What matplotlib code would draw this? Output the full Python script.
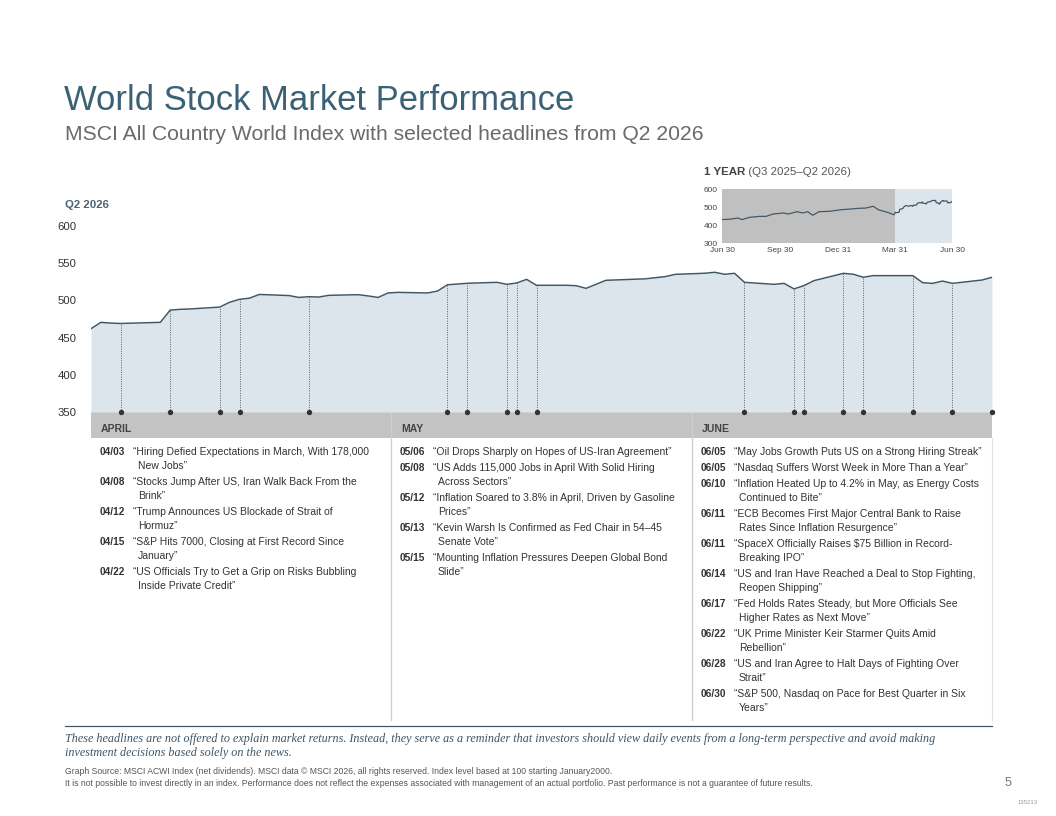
import numpy as np
import pandas as pd
import matplotlib
matplotlib.use("Agg")
import matplotlib.pyplot as plt
import matplotlib.dates as mdates
from matplotlib.patches import Rectangle
from matplotlib.lines import Line2D

plt.rcParams['font.family'] = ['Liberation Sans', 'DejaVu Sans']

# ---- data ----
q2_dates = ['2026-03-31', '2026-04-01', '2026-04-02', '2026-04-03', '2026-04-07', '2026-04-08',
            '2026-04-09', '2026-04-10', '2026-04-13', '2026-04-14', '2026-04-15', '2026-04-16',
            '2026-04-17', '2026-04-20', '2026-04-21', '2026-04-22', '2026-04-23', '2026-04-24',
            '2026-04-27', '2026-04-28', '2026-04-29', '2026-04-30', '2026-05-01', '2026-05-04',
            '2026-05-05', '2026-05-06', '2026-05-07', '2026-05-08', '2026-05-11', '2026-05-12',
            '2026-05-13', '2026-05-14', '2026-05-15', '2026-05-18', '2026-05-19', '2026-05-20',
            '2026-05-21', '2026-05-22', '2026-05-26', '2026-05-27', '2026-05-28', '2026-05-29',
            '2026-06-01', '2026-06-02', '2026-06-03', '2026-06-04', '2026-06-05', '2026-06-08',
            '2026-06-09', '2026-06-10', '2026-06-11', '2026-06-12', '2026-06-15', '2026-06-16',
            '2026-06-17', '2026-06-18', '2026-06-19', '2026-06-22', '2026-06-23', '2026-06-24',
            '2026-06-25', '2026-06-26', '2026-06-29', '2026-06-30']
q2_values = [462, 470.5, 469.5, 469, 470.5, 487,
             488, 488.5, 491, 497.5, 501.5, 503,
             508, 506.5, 504, 505, 504.5, 506.8,
             507.7, 506, 504, 510, 510.8, 510,
             512.6, 521, 522, 523, 524.3, 521.6,
             523.4, 528.3, 520.3, 520.3, 519.8, 516.2,
             521.6, 527, 529, 530.5, 532, 535,
             536.5, 537.8, 535.1, 536.4, 524.3, 521.6,
             522.9, 515.5, 519.8, 526.5, 536.4, 535.1,
             531.1, 533.3, 533.3, 533.3, 523.8, 522.9,
             526, 522.9, 527.4, 531.1]

# earlier part of the one-year inset (Q3 2025 - Q1 2026)
yr_dates = ['2025-06-30', '2025-07-15', '2025-07-25', '2025-08-01', '2025-08-13', '2025-08-29',
            '2025-09-08', '2025-09-19', '2025-10-06', '2025-10-13', '2025-10-27', '2025-11-05',
            '2025-11-13', '2025-11-21', '2025-12-01', '2025-12-18', '2026-01-05', '2026-01-21',
            '2026-02-03', '2026-02-13', '2026-02-25', '2026-03-05', '2026-03-18', '2026-03-30']
yr_values = [430, 433, 439, 430, 443, 448,
             448, 461, 467, 461, 474, 467,
             474, 454, 474, 476, 485, 489,
             493, 494, 504, 485, 472, 457]

marker_dates = ['2026-04-03', '2026-04-08', '2026-04-13', '2026-04-15', '2026-04-22',
                '2026-05-06', '2026-05-08', '2026-05-12', '2026-05-13', '2026-05-15',
                '2026-06-05', '2026-06-10', '2026-06-11', '2026-06-15', '2026-06-17',
                '2026-06-22', '2026-06-26', '2026-06-30']

months = ['APRIL', 'MAY', 'JUNE']
april = [("04/03", ["“Hiring Defied Expectations in March, With 178,000", "New Jobs”"]),
         ("04/08", ["“Stocks Jump After US, Iran Walk Back From the", "Brink”"]),
         ("04/12", ["“Trump Announces US Blockade of Strait of", "Hormuz”"]),
         ("04/15", ["“S&P Hits 7000, Closing at First Record Since", "January”"]),
         ("04/22", ["“US Officials Try to Get a Grip on Risks Bubbling", "Inside Private Credit”"])]
may = [("05/06", ["“Oil Drops Sharply on Hopes of US-Iran Agreement”"]),
       ("05/08", ["“US Adds 115,000 Jobs in April With Solid Hiring", "Across Sectors”"]),
       ("05/12", ["“Inflation Soared to 3.8% in April, Driven by Gasoline", "Prices”"]),
       ("05/13", ["“Kevin Warsh Is Confirmed as Fed Chair in 54–45", "Senate Vote”"]),
       ("05/15", ["“Mounting Inflation Pressures Deepen Global Bond", "Slide”"])]
june = [("06/05", ["“May Jobs Growth Puts US on a Strong Hiring Streak”"]),
        ("06/05", ["“Nasdaq Suffers Worst Week in More Than a Year”"]),
        ("06/10", ["“Inflation Heated Up to 4.2% in May, as Energy Costs", "Continued to Bite”"]),
        ("06/11", ["“ECB Becomes First Major Central Bank to Raise", "Rates Since Inflation Resurgence”"]),
        ("06/11", ["“SpaceX Officially Raises $75 Billion in Record-", "Breaking IPO”"]),
        ("06/14", ["“US and Iran Have Reached a Deal to Stop Fighting,", "Reopen Shipping”"]),
        ("06/17", ["“Fed Holds Rates Steady, but More Officials See", "Higher Rates as Next Move”"]),
        ("06/22", ["“UK Prime Minister Keir Starmer Quits Amid", "Rebellion”"]),
        ("06/28", ["“US and Iran Agree to Halt Days of Fighting Over", "Strait”"]),
        ("06/30", ["“S&P 500, Nasdaq on Pace for Best Quarter in Six", "Years”"])]

# ---- styling ----
W, H = 1056, 816
slate = '#3b6176'
line_c = '#3f5666'
fill_c = '#dbe5eb'
band_c = '#c3c3c3'
txt_c = '#333333'

fig = plt.figure(figsize=(W / 96, H / 96), dpi=96)

def rect(x0, y0, x1, y1):
    # pixel box (top-left origin) -> figure fraction
    return [x0 / W, 1 - y1 / H, (x1 - x0) / W, (y1 - y0) / H]

# overlay in pixel coords for page furniture
pg = fig.add_axes([0, 0, 1, 1])
pg.set_xlim(0, W)
pg.set_ylim(H, 0)
pg.axis('off')

pg.text(64, 100, "World Stock Market Performance", fontsize=26, color=slate, va='center')
pg.text(65, 134, "MSCI All Country World Index with selected headlines from Q2 2026",
        fontsize=15.8, color='#6a6a6a', va='center')
pg.text(65, 205, "Q2 2026", fontsize=8.5, fontweight='bold', color='#4a6272', va='center')

# ---- main chart ----
d = pd.to_datetime(q2_dates)
dn = mdates.date2num(d)
ax = fig.add_axes(rect(91, 226, 992, 412))
ax.fill_between(dn, q2_values, 350, color=fill_c, lw=0)
ax.plot(dn, q2_values, color=line_c, lw=1.1)
ax.set_xlim(dn[0], dn[-1])
ax.set_ylim(350, 600)
ax.set_yticks([350, 400, 450, 500, 550, 600])
ax.set_xticks([])
ax.tick_params(axis='y', length=0, pad=11, labelsize=8.5, labelcolor=txt_c)
for s in ax.spines.values():
    s.set_visible(False)

mk = mdates.date2num(pd.to_datetime(marker_dates))
mk_vals = np.interp(mk, dn, q2_values)
ax.vlines(mk, 350, mk_vals, colors='#555555', linestyles=(0, (1, 1.5)), lw=0.7)
ax.scatter(mk, [350] * len(mk), s=9, color='#333333', zorder=5, clip_on=False)

# ---- month band and headline columns ----
pg.add_patch(Rectangle((91, 412), 901, 26, facecolor=band_c, edgecolor='none', zorder=0))
col_x = [91, 391, 692]
for cx in col_x[1:]:
    pg.add_line(Line2D([cx, cx], [412, 720], color='#cfcfcf', lw=1.0))
pg.add_line(Line2D([992, 992], [438, 720], color='#e2e2e2', lw=0.8))

for cx, name, items in zip(col_x, months, [april, may, june]):
    pg.text(cx + 10, 429, name, fontsize=7.8, fontweight='bold', color='#444444', va='center')
    y = 452
    for date, lines in items:
        pg.text(cx + 9, y, date, fontsize=7.6, fontweight='bold', color=txt_c, va='center')
        for i, ln in enumerate(lines):
            pg.text(cx + 42 + (5 if i else 0), y + 14 * i, ln, fontsize=7.8, color=txt_c, va='center')
        y += 14 * len(lines) + 2

# ---- one-year inset ----
yd = mdates.date2num(pd.to_datetime(yr_dates))
all_x = np.concatenate([yd, dn])
all_y = list(yr_values) + list(q2_values)
ins = fig.add_axes(rect(722, 189, 952, 243))
ins.axvspan(all_x[0], dn[0], color='#c0c0c0', lw=0)
ins.axvspan(dn[0], dn[-1], color=fill_c, lw=0)
ins.plot(all_x, all_y, color=line_c, lw=0.9)
ins.set_xlim(all_x[0], dn[-1])
ins.set_ylim(300, 600)
ins.set_yticks([300, 400, 500, 600])
tick_dates = mdates.date2num(pd.to_datetime(['2025-06-30', '2025-09-30', '2025-12-31',
                                             '2026-03-31', '2026-06-30']))
ins.set_xticks(tick_dates)
ins.set_xticklabels(['Jun 30', 'Sep 30', 'Dec 31', 'Mar 31', 'Jun 30'])
ins.tick_params(length=0, labelsize=6.2, labelcolor='#444444', pad=3)
for s in ins.spines.values():
    s.set_visible(False)

t1 = pg.text(704, 172, "1 YEAR", fontsize=8.6, fontweight='bold', color='#444444', va='center')
pg.annotate(" (Q3 2025–Q2 2026)", xy=(1, 0.5), xycoords=t1, va='center',
            fontsize=8.6, color='#555555')

# ---- footer ----
pg.add_line(Line2D([65, 992], [726, 726], color='#3e5566', lw=0.9))
foot = ("These headlines are not offered to explain market returns. Instead, they serve as a reminder that "
        "investors should view daily events from a long-term perspective and avoid making\n"
        "investment decisions based solely on the news.")
pg.text(65, 733, foot, fontsize=9.1, family='Liberation Serif', style='italic', color='#3e5566',
        va='top', linespacing=1.25)
pg.text(65, 772, "Graph Source: MSCI ACWI Index (net dividends). MSCI data © MSCI 2026, all rights reserved. "
        "Index level based at 100 starting January2000.", fontsize=6.5, color='#555555', va='center')
pg.text(65, 784, "It is not possible to invest directly in an index. Performance does not reflect the expenses "
        "associated with management of an actual portfolio. Past performance is not a guarantee of future results.",
        fontsize=6.5, color='#555555', va='center')
pg.text(1005, 783, "5", fontsize=9.5, color='#777777', va='center')
pg.text(1018, 803, "135213", fontsize=4.5, color='#999999', va='center')

fig.savefig("out.png", dpi=96)
